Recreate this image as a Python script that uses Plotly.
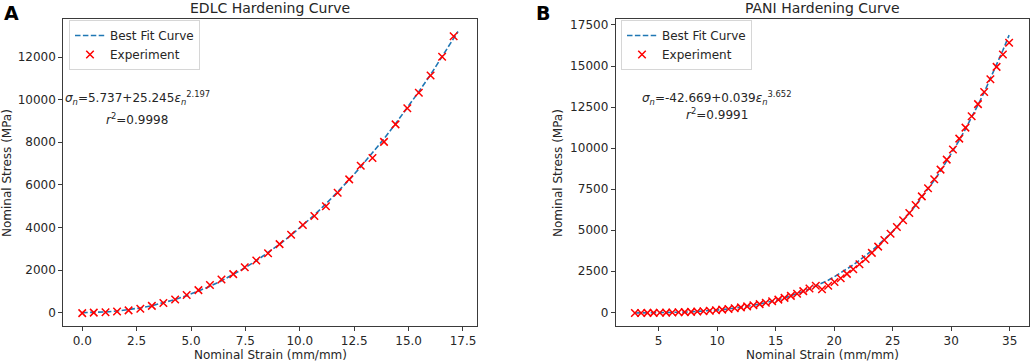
import plotly.graph_objects as go

# ---------------- data ----------------
edlc_strain = [0.00, 0.53, 1.07, 1.60, 2.13, 2.67, 3.20, 3.73, 4.27, 4.80, 5.34,
               5.87, 6.40, 6.94, 7.47, 8.00, 8.54, 9.07, 9.60, 10.14, 10.67, 11.20,
               11.74, 12.27, 12.80, 13.34, 13.87, 14.40, 14.94, 15.47, 16.01, 16.54, 17.07]
edlc_stress = [-20, 5, 20, 60, 110, 190, 320, 460, 620, 830, 1060,
               1300, 1560, 1810, 2130, 2450, 2790, 3220, 3660, 4120, 4540, 5000,
               5630, 6260, 6900, 7260, 8020, 8840, 9600, 10330, 11140, 12020, 12980]
edlc_fit_strain = [0.00, 0.53, 1.07, 1.60, 2.13, 2.67, 3.20, 3.73, 4.27, 4.80, 5.34,
                   5.87, 6.40, 6.94, 7.47, 8.00, 8.54, 9.07, 9.60, 10.14, 10.67, 11.20,
                   11.74, 12.27, 12.80, 13.34, 13.87, 14.40, 14.94, 15.47, 16.01, 16.54,
                   17.07, 17.27]
edlc_fit_stress = [6, 12, 35, 77, 139, 224, 331, 462, 618, 799, 1005,
                   1238, 1498, 1785, 2100, 2441, 2811, 3212, 3642, 4101, 4588, 5108,
                   5656, 6241, 6850, 7494, 8165, 8870, 9607, 10377, 11174, 12005,
                   12881, 13200]

pani_strain = [2.97, 3.50, 4.04, 4.57, 5.10, 5.64, 6.17, 6.70, 7.23, 7.77, 8.30,
               8.83, 9.37, 9.90, 10.43, 10.97, 11.50, 12.03, 12.56, 13.10, 13.63,
               14.16, 14.70, 15.23, 15.76, 16.30, 16.83, 17.36, 17.89, 18.43,
               18.96, 19.49, 20.03, 20.56, 21.09, 21.63, 22.16, 22.69, 23.22, 23.76,
               24.29, 24.82, 25.36, 25.89, 26.42, 26.96, 27.49, 28.02, 28.55, 29.09,
               29.62, 30.15, 30.69, 31.22, 31.75, 32.29, 32.82, 33.35, 33.88, 34.42, 34.95]
pani_stress = [-40, -39, -36, -33, -28, -21, -13, -2, 11, 27, 46,
               69, 95, 126, 162, 203, 249, 301, 360, 427, 500,
               581, 673, 772, 879, 1000, 1135, 1290, 1450, 1620,
               1400, 1620, 1850, 2080, 2340, 2620, 2930, 3250, 3620, 4000,
               4400, 4790, 5200, 5610, 6050, 6540, 7060, 7560, 8100, 8690,
               9300, 9920, 10580, 11250, 11940, 12680, 13420, 14200, 14950, 15700, 16420]
pani_fit_stress = [-41, -39, -36, -33, -28, -21, -13, -2, 11, 27, 46,
                   69, 95, 126, 162, 203, 249, 301, 360, 427, 500,
                   581, 673, 772, 879, 1000, 1129, 1270, 1422, 1591,
                   1764, 1956, 2172, 2392, 2630, 2887, 3160, 3447, 3757, 4090,
                   4434, 4801, 5199, 5608, 6041, 6509, 6993, 7504, 8034, 8603,
                   9204, 9824, 10479, 11162, 11868, 12628, 13400, 14219, 15058, 15963, 16883]

edlc_xticks = [0, 2.5, 5, 7.5, 10, 12.5, 15, 17.5]
edlc_yticks = [0, 2000, 4000, 6000, 8000, 10000, 12000]
pani_xticks = [5, 10, 15, 20, 25, 30, 35]
pani_yticks = [0, 2500, 5000, 7500, 10000, 12500, 15000, 17500]

# ---------------- figure ----------------
W, H = 1031, 364
FONT = "DejaVu Sans"
TXT = "#262626"
FIT_C = "#1f77b4"
EXP_C = "#ff0000"
FS = 12

fig = go.Figure()

fig.add_trace(go.Scatter(x=edlc_fit_strain, y=edlc_fit_stress, mode="lines",
                         name="Best Fit Curve", legend="legend",
                         line=dict(color=FIT_C, width=1.6, dash="5.5px,2.4px"),
                         xaxis="x", yaxis="y"))
fig.add_trace(go.Scatter(x=edlc_strain, y=edlc_stress, mode="markers",
                         name="Experiment", legend="legend",
                         marker=dict(symbol="x-thin", size=7.5, color=EXP_C,
                                     line=dict(color=EXP_C, width=1.5)),
                         xaxis="x", yaxis="y"))
fig.add_trace(go.Scatter(x=pani_strain, y=pani_fit_stress, mode="lines",
                         name="Best Fit Curve", legend="legend2",
                         line=dict(color=FIT_C, width=1.6, dash="5.5px,2.4px"),
                         xaxis="x2", yaxis="y2"))
fig.add_trace(go.Scatter(x=pani_strain, y=pani_stress, mode="markers",
                         name="Experiment", legend="legend2",
                         marker=dict(symbol="x-thin", size=7.5, color=EXP_C,
                                     line=dict(color=EXP_C, width=1.5)),
                         xaxis="x2", yaxis="y2"))


def px(x):
    return x / W


def py(y):
    return 1 - y / H


axis_common = dict(showgrid=False, zeroline=False, showline=True, mirror=True,
                   linecolor="#3a3a3a", linewidth=1, ticks="outside", ticklen=4,
                   tickwidth=1, tickcolor="#3a3a3a",
                   tickfont=dict(family=FONT, size=FS, color=TXT))

fig.update_layout(
    width=W, height=H, margin=dict(l=0, r=0, t=0, b=0),
    paper_bgcolor="white", plot_bgcolor="white",
    font=dict(family=FONT, color=TXT, size=FS),
    xaxis=dict(domain=[px(63.3), px(476.7)], range=[-0.87, 18.13],
               tickvals=edlc_xticks, tickformat=".1f", anchor="y", **axis_common),
    yaxis=dict(domain=[py(326), py(19)], range=[-624, 13788],
               tickvals=edlc_yticks, tickformat="d", anchor="x", **axis_common),
    xaxis2=dict(domain=[px(615.7), px(1029)], range=[1.33, 36.65],
                tickvals=pani_xticks, tickformat="d", anchor="y2", **axis_common),
    yaxis2=dict(domain=[py(326), py(19)], range=[-834, 17865],
                tickvals=pani_yticks, tickformat="d", anchor="x2", **axis_common),
    legend=dict(x=px(69), y=py(20), xanchor="left", yanchor="top",
                bordercolor="#d6d6d6", borderwidth=1, bgcolor="white",
                font=dict(family=FONT, size=FS, color=TXT), tracegroupgap=0),
    legend2=dict(x=px(621), y=py(20), xanchor="left", yanchor="top",
                 bordercolor="#d6d6d6", borderwidth=1, bgcolor="white",
                 font=dict(family=FONT, size=FS, color=TXT), tracegroupgap=0),
)

ann = []


def add_text(text, x, y, size=FS, bold=False, angle=0, color=TXT):
    t = f"<b>{text}</b>" if bold else text
    ann.append(dict(text=t, x=px(x), y=py(y), xref="paper", yref="paper",
                    xanchor="center", yanchor="middle", showarrow=False,
                    textangle=angle, font=dict(family=FONT, size=size, color=color)))


# panel letters and titles
add_text("A", 11, 13, size=19, bold=True, color="#000000")
add_text("B", 543, 13, size=19, bold=True, color="#000000")
add_text("EDLC Hardening Curve", 270, 8, size=14)
add_text("PANI Hardening Curve", 822, 8, size=14)
# axis titles
add_text("Nominal Strain (mm/mm)", 270, 355)
add_text("Nominal Strain (mm/mm)", 822, 355)
add_text("Nominal Stress (MPa)", 7, 173, angle=-90)
add_text("Nominal Stress (MPa)", 558, 173, angle=-90)
# equations
add_text("<i>σ</i><sub><i>n</i></sub>=5.737+25.245<i>ε</i><sub><i>n</i></sub><sup>2.197</sup>",
         137, 98)
add_text("<i>r</i><sup>2</sup>=0.9998", 137, 119)
add_text("<i>σ</i><sub><i>n</i></sub>=-42.669+0.039<i>ε</i><sub><i>n</i></sub><sup>3.652</sup>",
         717, 98)
add_text("<i>r</i><sup>2</sup>=0.9991", 717, 114)

fig.update_layout(annotations=ann)

fig.write_html("out.html", config={"displayModeBar": False},
               post_script="document.body.style.margin='0px';document.body.style.padding='0px';")
